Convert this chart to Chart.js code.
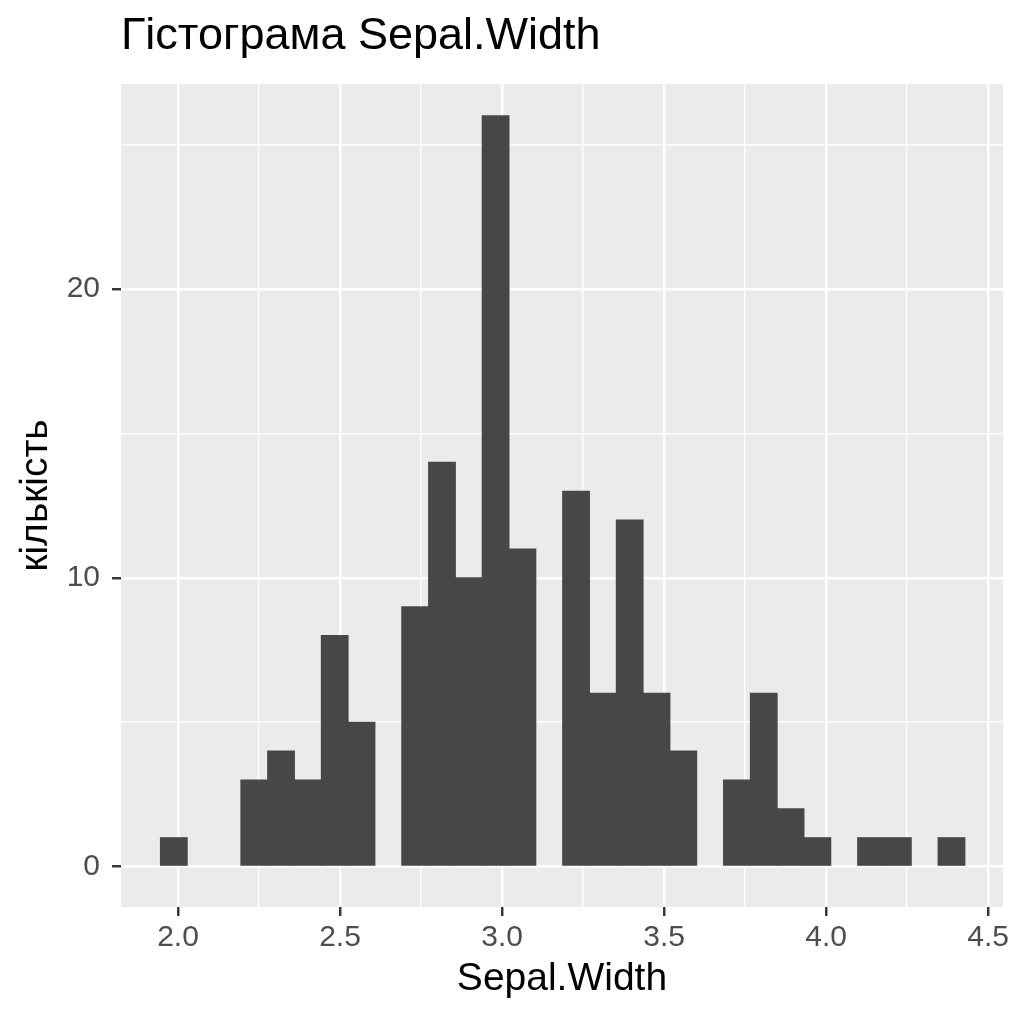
<!DOCTYPE html>
<html>
<head>
<meta charset="utf-8">
<title>Гістограма Sepal.Width</title>
<script src="https://cdn.jsdelivr.net/npm/chart.js@4.4.1/dist/chart.umd.min.js"></script>
<style>
  html, body { margin: 0; padding: 0; background: #ffffff; }
  #wrap { width: 1024px; height: 1024px; }
</style>
</head>
<body>
<div id="wrap"><canvas id="hist"></canvas></div>
<script>
// Bin centres (30 bins, width ~0.083) and counts
const binCentres = [
  1.9870, 2.0698, 2.1525, 2.2353, 2.3180, 2.4008, 2.4836, 2.5663, 2.6491, 2.7318,
  2.8146, 2.8973, 2.9801, 3.0629, 3.1456, 3.2284, 3.3111, 3.3939, 3.4767, 3.5594,
  3.6422, 3.7249, 3.8077, 3.8904, 3.9732, 4.0560, 4.1387, 4.2215, 4.3042, 4.3870
];
const binCounts = [
  1, 0, 0, 3, 4, 3, 8, 5, 0, 9,
  14, 10, 26, 11, 0, 13, 6, 12, 6, 4,
  0, 3, 6, 2, 1, 0, 1, 1, 0, 1
];

// Axis ticks: majors carry labels, minors only get a thin grid line
const xTicks = [2.0, 2.25, 2.5, 2.75, 3.0, 3.25, 3.5, 3.75, 4.0, 4.25, 4.5];
const xTickLabels = ['2.0', '', '2.5', '', '3.0', '', '3.5', '', '4.0', '', '4.5'];
const yTicks = [0, 5, 10, 15, 20, 25];
const yTickLabels = ['0', '', '10', '', '20', ''];

const FONT = '"Liberation Sans", Arial, Helvetica, sans-serif';
const MAJOR_W = 2.5;
const MINOR_W = 1.4;

// grey panel behind the grid, ggplot style
const panelBg = {
  id: 'panelBg',
  beforeDraw(chart) {
    const { ctx, chartArea: a } = chart;
    ctx.save();
    ctx.fillStyle = '#EBEBEB';
    ctx.fillRect(a.left, a.top, a.right - a.left, a.bottom - a.top);
    ctx.restore();
  }
};

function gridOpts(tickLength) {
  return {
    offset: false,
    color: '#FFFFFF',
    lineWidth: ctx => (ctx.index % 2 === 0 ? MAJOR_W : MINOR_W),
    drawTicks: true,
    tickLength: tickLength,
    tickWidth: 2.4,
    tickColor: ctx => (ctx.index % 2 === 0 ? '#333333' : 'rgba(0,0,0,0)')
  };
}

const ctx = document.getElementById('hist');
new Chart(ctx, {
  type: 'bar',
  data: {
    datasets: [{
      label: 'кількість',
      data: binCentres.map((x, i) => ({ x: x, y: binCounts[i] })),
      backgroundColor: c => (binCounts[c.dataIndex] > 0 ? '#474747' : 'rgba(0,0,0,0)'),
      borderWidth: 0,
      inflateAmount: 0.5,
      barPercentage: 1.0,
      categoryPercentage: 1.0
    }]
  },
  options: {
    responsive: true,
    maintainAspectRatio: false,
    animation: false,
    layout: { padding: { left: 0, right: 21, top: 0, bottom: 0 } },
    plugins: {
      legend: { display: false },
      tooltip: { enabled: false },
      title: {
        display: true,
        text: 'Гістограма Sepal.Width',
        align: 'start',
        fullSize: false,
        color: '#000000',
        font: { family: FONT, size: 45, weight: 'normal' },
        padding: { top: 10, bottom: 20 }
      }
    },
    scales: {
      x: {
        type: 'linear',
        offset: false,
        min: 1.824,
        max: 4.546,
        border: { display: false },
        grid: gridOpts(9),
        afterBuildTicks: scale => { scale.ticks = xTicks.map(v => ({ value: v })); },
        afterFit: scale => { scale.height = 117; },
        ticks: {
          autoSkip: false,
          maxRotation: 0,
          minRotation: 0,
          padding: 4,
          color: '#4D4D4D',
          font: { family: FONT, size: 30 },
          callback: (v, i) => xTickLabels[i]
        },
        title: {
          display: true,
          text: 'Sepal.Width',
          color: '#000000',
          font: { family: FONT, size: 39 },
          padding: { top: 0, bottom: 21 }
        }
      },
      y: {
        type: 'linear',
        beginAtZero: false,
        min: -1.4,
        max: 27.1,
        border: { display: false },
        grid: gridOpts(9),
        afterBuildTicks: scale => { scale.ticks = yTicks.map(v => ({ value: v })); },
        afterFit: scale => { scale.width = 121; },
        ticks: {
          autoSkip: false,
          padding: 12,
          color: '#4D4D4D',
          font: { family: FONT, size: 30 },
          callback: (v, i) => yTickLabels[i]
        },
        title: {
          display: true,
          text: 'кількість',
          color: '#000000',
          font: { family: FONT, size: 39 },
          padding: { top: 13, bottom: 0 }
        }
      }
    }
  },
  plugins: [panelBg]
});
</script>
</body>
</html>
